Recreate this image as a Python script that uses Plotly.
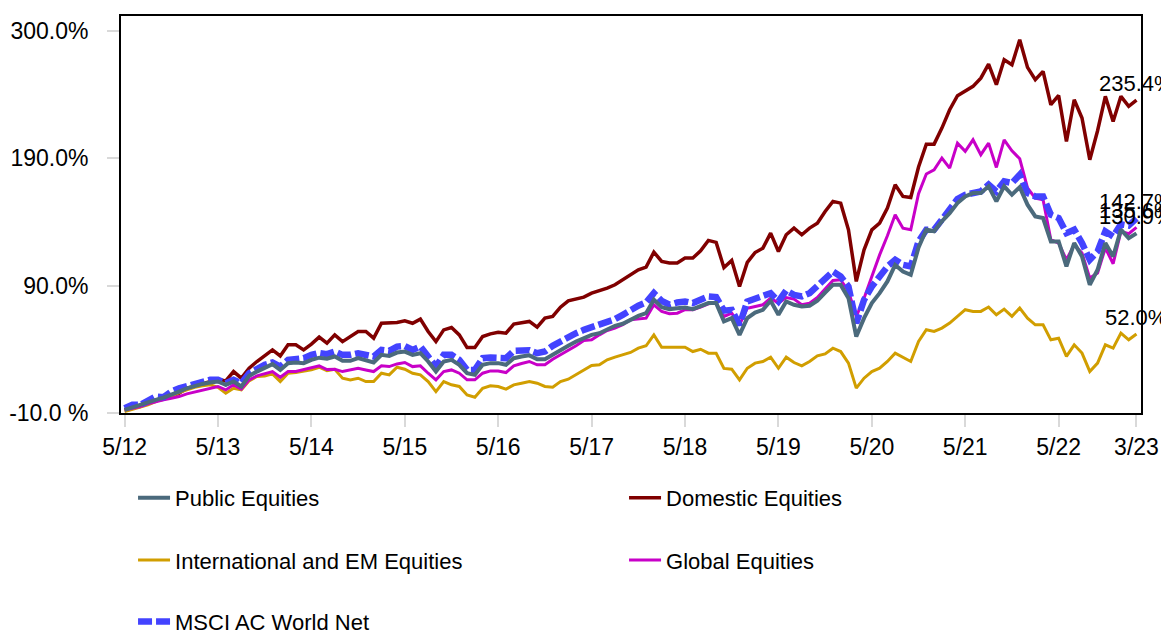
import plotly.graph_objects as go

# ---- data (cumulative return, %), monthly May-2012 .. Mar-2023 ----
months = list(range(131))
x_tick_pos = [0, 12, 24, 36, 48, 60, 72, 84, 96, 108, 120, 130]
x_tick_labels = ["5/12", "5/13", "5/14", "5/15", "5/16", "5/17", "5/18",
                 "5/19", "5/20", "5/21", "5/22", "3/23"]
y_tick_vals = [-10, 90, 190, 290]
y_tick_labels = ["-10.0 %", "90.0%", "190.0%", "300.0%"]

public_equities = [
    -7.6, -5.5, -3.6, -1.0, 0.3, 2.1, 4.2, 6.8, 9.4, 11.3,
    12.8, 13.9, 14.7, 12.1, 14.7, 10.8, 19.1, 22.5, 25.1, 28.3,
    23.8, 29.1, 29.6, 29.1, 31.7, 33.4, 32.6,
    34.3, 30.9, 30.9, 33.0, 31.7, 29.6, 35.6, 34.8, 37.4, 38.2,
    35.6, 36.9, 30.4, 22.5, 30.4, 31.7, 27.8, 21.2, 19.9, 27.8,
    29.1, 29.1, 27.8, 33.0, 34.3, 35.2,
    32.2, 32.2, 35.6, 39.5, 42.7, 46.1, 48.7, 51.3, 52.6, 55.8,
    58.4, 60.0, 63.1, 66.2, 68.3, 78.8, 73.0, 71.5, 72.2, 72.8,
    71.5, 74.1, 76.2, 76.2,
    61.8, 64.4, 51.3, 64.4, 68.8, 70.9, 78.0, 67.0, 77.5, 74.9,
    73.5, 74.1, 78.0, 84.5, 90.5, 90.5, 80.1, 50.0, 64.4, 76.2,
    84.0, 93.2, 106.2, 101.0,
    98.4, 119.8, 133.8, 132.5, 140.3, 146.8, 154.7, 159.9, 162.5, 162.5,
    167.8, 156.0, 167.8, 161.2, 167.2, 153.4, 144.2, 142.9, 124.6, 124.6,
    105.0, 123.3, 112.8, 90.6, 102.4, 123.3, 112.8, 133.8, 127.2, 130.9,
]

domestic_equities = [
    -7.6, -5.5, -4.9, -2.3, 0.0, 0.8, 2.9, 5.5, 9.4, 11.3,
    13.4, 15.2, 16.5, 15.2, 22.5, 17.3, 25.1, 30.4, 35.1, 39.5,
    34.8, 43.5, 43.5, 39.5, 44.0, 49.5, 44.8,
    51.3, 46.0, 50.0, 53.9, 53.9, 48.7, 60.4, 60.4, 61.0, 62.3,
    60.4, 63.6, 53.9, 46.0, 55.2, 57.0, 51.3, 41.3, 41.3, 50.0,
    52.1, 53.4, 52.6, 59.7, 60.5, 61.8,
    57.3, 64.4, 65.7, 73.0, 78.0, 79.3, 80.9, 84.0, 85.9, 88.0,
    90.6, 94.5, 98.4, 102.3, 104.4, 116.2, 108.9, 107.6, 107.6, 111.5,
    111.5, 117.2, 125.4, 123.8,
    104.0, 109.6, 89.2, 108.1, 115.9, 119.3, 131.1, 116.7, 129.8, 135.0,
    129.8, 135.0, 138.9, 148.1, 156.0, 154.6, 133.7, 93.2, 118.0, 133.7,
    138.9, 150.7, 169.0, 159.9,
    159.0, 183.0, 200.9, 200.9, 213.5, 227.9, 238.9, 242.3, 246.2, 252.7,
    263.7, 247.5, 267.1, 263.2, 282.8, 261.1, 251.4, 258.0, 231.8, 239.1,
    203.0, 235.7, 221.4, 188.7, 211.4, 238.4, 218.7, 238.4, 230.5, 235.4,
]

international_em_equities = [
    -8.9, -7.0, -5.5, -3.6, -1.0, 1.6, 2.9, 6.0, 8.1, 10.2,
    11.3, 12.1, 10.2, 5.5, 9.4, 8.1, 15.2, 18.6, 19.1, 20.7,
    14.7, 21.2, 21.7, 22.5, 23.8, 25.9, 23.2,
    24.3, 17.3, 16.0, 17.3, 14.7, 14.7, 21.2, 19.9, 25.9, 24.3,
    21.2, 19.9, 14.7, 6.8, 14.7, 12.1, 10.8, 4.2, 2.4, 9.4,
    11.3, 10.8, 8.7, 12.1, 13.4, 14.7,
    13.4, 10.8, 10.3, 14.7, 16.5, 19.9, 23.8, 27.2, 27.8, 31.7,
    33.8, 35.6, 37.5, 40.9, 42.7, 51.3, 41.6, 41.6, 41.6, 41.6,
    38.2, 40.0, 36.9, 36.9,
    25.0, 24.4, 16.0, 25.1, 29.1, 30.4, 33.8, 25.1, 33.8, 29.6,
    27.0, 30.4, 34.8, 36.4, 40.8, 38.2, 29.1, 9.5, 17.3, 22.5,
    25.1, 30.4, 36.9, 33.8,
    30.4, 46.1, 55.3, 54.0, 56.6, 60.5, 65.8, 71.0, 69.7, 69.7,
    73.1, 67.1, 71.5, 65.8, 72.3, 64.4, 59.2, 59.2, 47.4, 48.7,
    34.4, 43.5, 37.0, 22.6, 29.1, 43.5, 40.9, 52.7, 47.4, 52.0,
]

global_equities = [
    -7.6, -6.2, -4.9, -2.8, -1.0, 0.3, 1.6, 2.9, 5.0, 6.3,
    8.1, 9.4, 10.8, 8.1, 12.1, 8.7, 16.0, 19.1, 20.7, 22.5,
    18.0, 22.5, 22.5, 23.8, 25.1, 27.0, 24.1,
    24.3, 22.5, 23.8, 25.1, 23.8, 22.5, 27.0, 26.4, 28.5, 29.6,
    26.4, 27.0, 21.2, 16.0, 22.5, 23.8, 21.2, 16.0, 16.0, 21.2,
    23.0, 23.0, 21.7, 27.0, 28.8, 30.4,
    27.8, 27.8, 32.2, 35.6, 38.7, 42.7, 46.9, 47.4, 51.3, 54.7,
    56.6, 59.2, 63.1, 63.6, 64.4, 74.9, 69.6, 67.8, 68.3, 71.0,
    71.0, 73.0, 75.6, 76.2,
    65.7, 68.3, 59.2, 72.2, 73.5, 74.9, 80.1, 76.2, 80.6, 79.3,
    74.9, 76.2, 80.6, 87.1, 94.0, 94.5, 85.3, 65.7, 80.0, 97.0,
    114.0, 129.0, 145.5, 135.0,
    133.7, 162.0, 177.5, 180.8, 190.0, 182.1, 201.7, 195.2, 204.3, 192.6,
    201.7, 182.6, 204.3, 195.7, 189.4, 166.5, 158.6, 157.3, 125.9, 123.3,
    110.2, 122.0, 115.5, 95.8, 99.8, 119.4, 107.1, 132.5, 130.6, 135.6,
]

msci_acwi_net = [
    -6.2, -3.6, -3.6, 0.3, 2.9, 2.4, 6.8, 9.4, 11.3, 13.4,
    14.7, 16.0, 16.0, 13.4, 16.0, 13.4, 21.2, 25.1, 27.8, 29.6,
    26.4, 31.7, 32.2, 33.0, 35.6, 37.1, 36.2,
    38.2, 35.6, 35.6, 36.9, 35.6, 34.3, 39.5, 38.7, 42.1, 42.6,
    39.5, 42.1, 34.3, 26.4, 35.6, 35.6, 31.7, 23.8, 23.8, 33.0,
    33.5, 33.5, 33.0, 38.7, 38.6, 39.2,
    36.9, 38.2, 42.7, 46.1, 50.0, 52.6, 55.2, 57.3, 59.2, 61.8,
    63.6, 67.0, 71.0, 74.1, 76.7, 84.0, 78.0, 74.9, 76.7, 77.5,
    76.2, 79.3, 81.4, 80.9,
    70.3, 70.9, 59.0, 77.5, 80.1, 82.7, 84.0, 77.5, 86.1, 82.7,
    81.4, 84.0, 89.2, 94.5, 101.0, 97.1, 89.2, 60.5, 78.8, 89.2,
    97.1, 104.9, 110.2, 106.2,
    104.9, 124.6, 133.8, 133.8, 141.6, 149.5, 157.8, 161.2, 162.5, 163.8,
    169.1, 163.8, 171.7, 170.4, 176.9, 162.5, 159.9, 159.9, 145.5, 142.9,
    131.1, 133.8, 123.3, 110.2, 116.8, 132.5, 128.5, 138.0, 137.0, 142.7,
]

FONT = "Arial, 'Liberation Sans', sans-serif"

# drawing order (bottom -> top)
series = [
    # name, values, color, width, dash, legend, rank
    ("Domestic Equities", domestic_equities, "#800000", 3.5, "solid", "legend", 2),
    ("International and EM Equities", international_em_equities, "#D19E00", 3, "solid", "legend2", 1),
    ("Global Equities", global_equities, "#C800C8", 3, "solid", "legend2", 2),
    ("MSCI AC World Net", msci_acwi_net, "#4343FF", 6.5, "14px,4px", "legend3", 1),
    ("Public Equities", public_equities, "#4B6A7C", 4, "solid", "legend", 1),
]

fig = go.Figure()
for name, vals, color, width, dash, leg, rank in series:
    fig.add_trace(go.Scatter(
        x=months, y=vals, mode="lines", name=name,
        line=dict(color=color, width=width, dash=dash),
        legend=leg, legendrank=rank, hoverinfo="skip",
    ))

# end-of-series value labels
for name, vals, color, width, dash, leg, rank in series:
    fig.add_annotation(
        x=months[-1], y=vals[-1], text=f"{vals[-1]:.1f}%",
        showarrow=False, xanchor="center", yanchor="bottom", yshift=2,
        font=dict(family=FONT, size=22, color="#000000"),
    )

legend_common = dict(
    orientation="h", xanchor="left", yanchor="middle",
    entrywidth=444, entrywidthmode="pixels", itemwidth=32,
    font=dict(family=FONT, size=22, color="#000000"),
    bgcolor="rgba(0,0,0,0)", borderwidth=0,
)

# the page body has an 8px margin, so the figure is sized/offset to fit the window
fig.update_layout(
    width=1161, height=627,
    margin=dict(l=113, r=28, t=8, b=222, pad=0, autoexpand=False),
    paper_bgcolor="white", plot_bgcolor="white",
    font=dict(family=FONT, size=23, color="#000000"),
    showlegend=True,
    legend=dict(x=0.0118, y=-0.214, **legend_common),
    legend2=dict(x=0.0118, y=-0.371, **legend_common),
    legend3=dict(x=0.0118, y=-0.526, **legend_common),
    xaxis=dict(
        range=[-0.46, 130.58], tickmode="array",
        tickvals=x_tick_pos, ticktext=x_tick_labels,
        showgrid=False, zeroline=False,
        showline=True, linecolor="#000000", linewidth=2, mirror=True,
        ticks="outside", ticklen=12, tickwidth=2, tickcolor="#D9D9D9",
        tickfont=dict(family=FONT, size=23, color="#000000"),
        ticklabelstandoff=0,
    ),
    yaxis=dict(
        range=[-10, 301.4], tickmode="array",
        tickvals=y_tick_vals, ticktext=y_tick_labels,
        showgrid=False, zeroline=False,
        showline=True, linecolor="#000000", linewidth=2, mirror=True,
        ticks="outside", ticklen=12, tickwidth=2, tickcolor="#D9D9D9",
        tickfont=dict(family=FONT, size=23, color="#000000"),
        ticklabelstandoff=14,
    ),
)

fig.write_html("out.html")
